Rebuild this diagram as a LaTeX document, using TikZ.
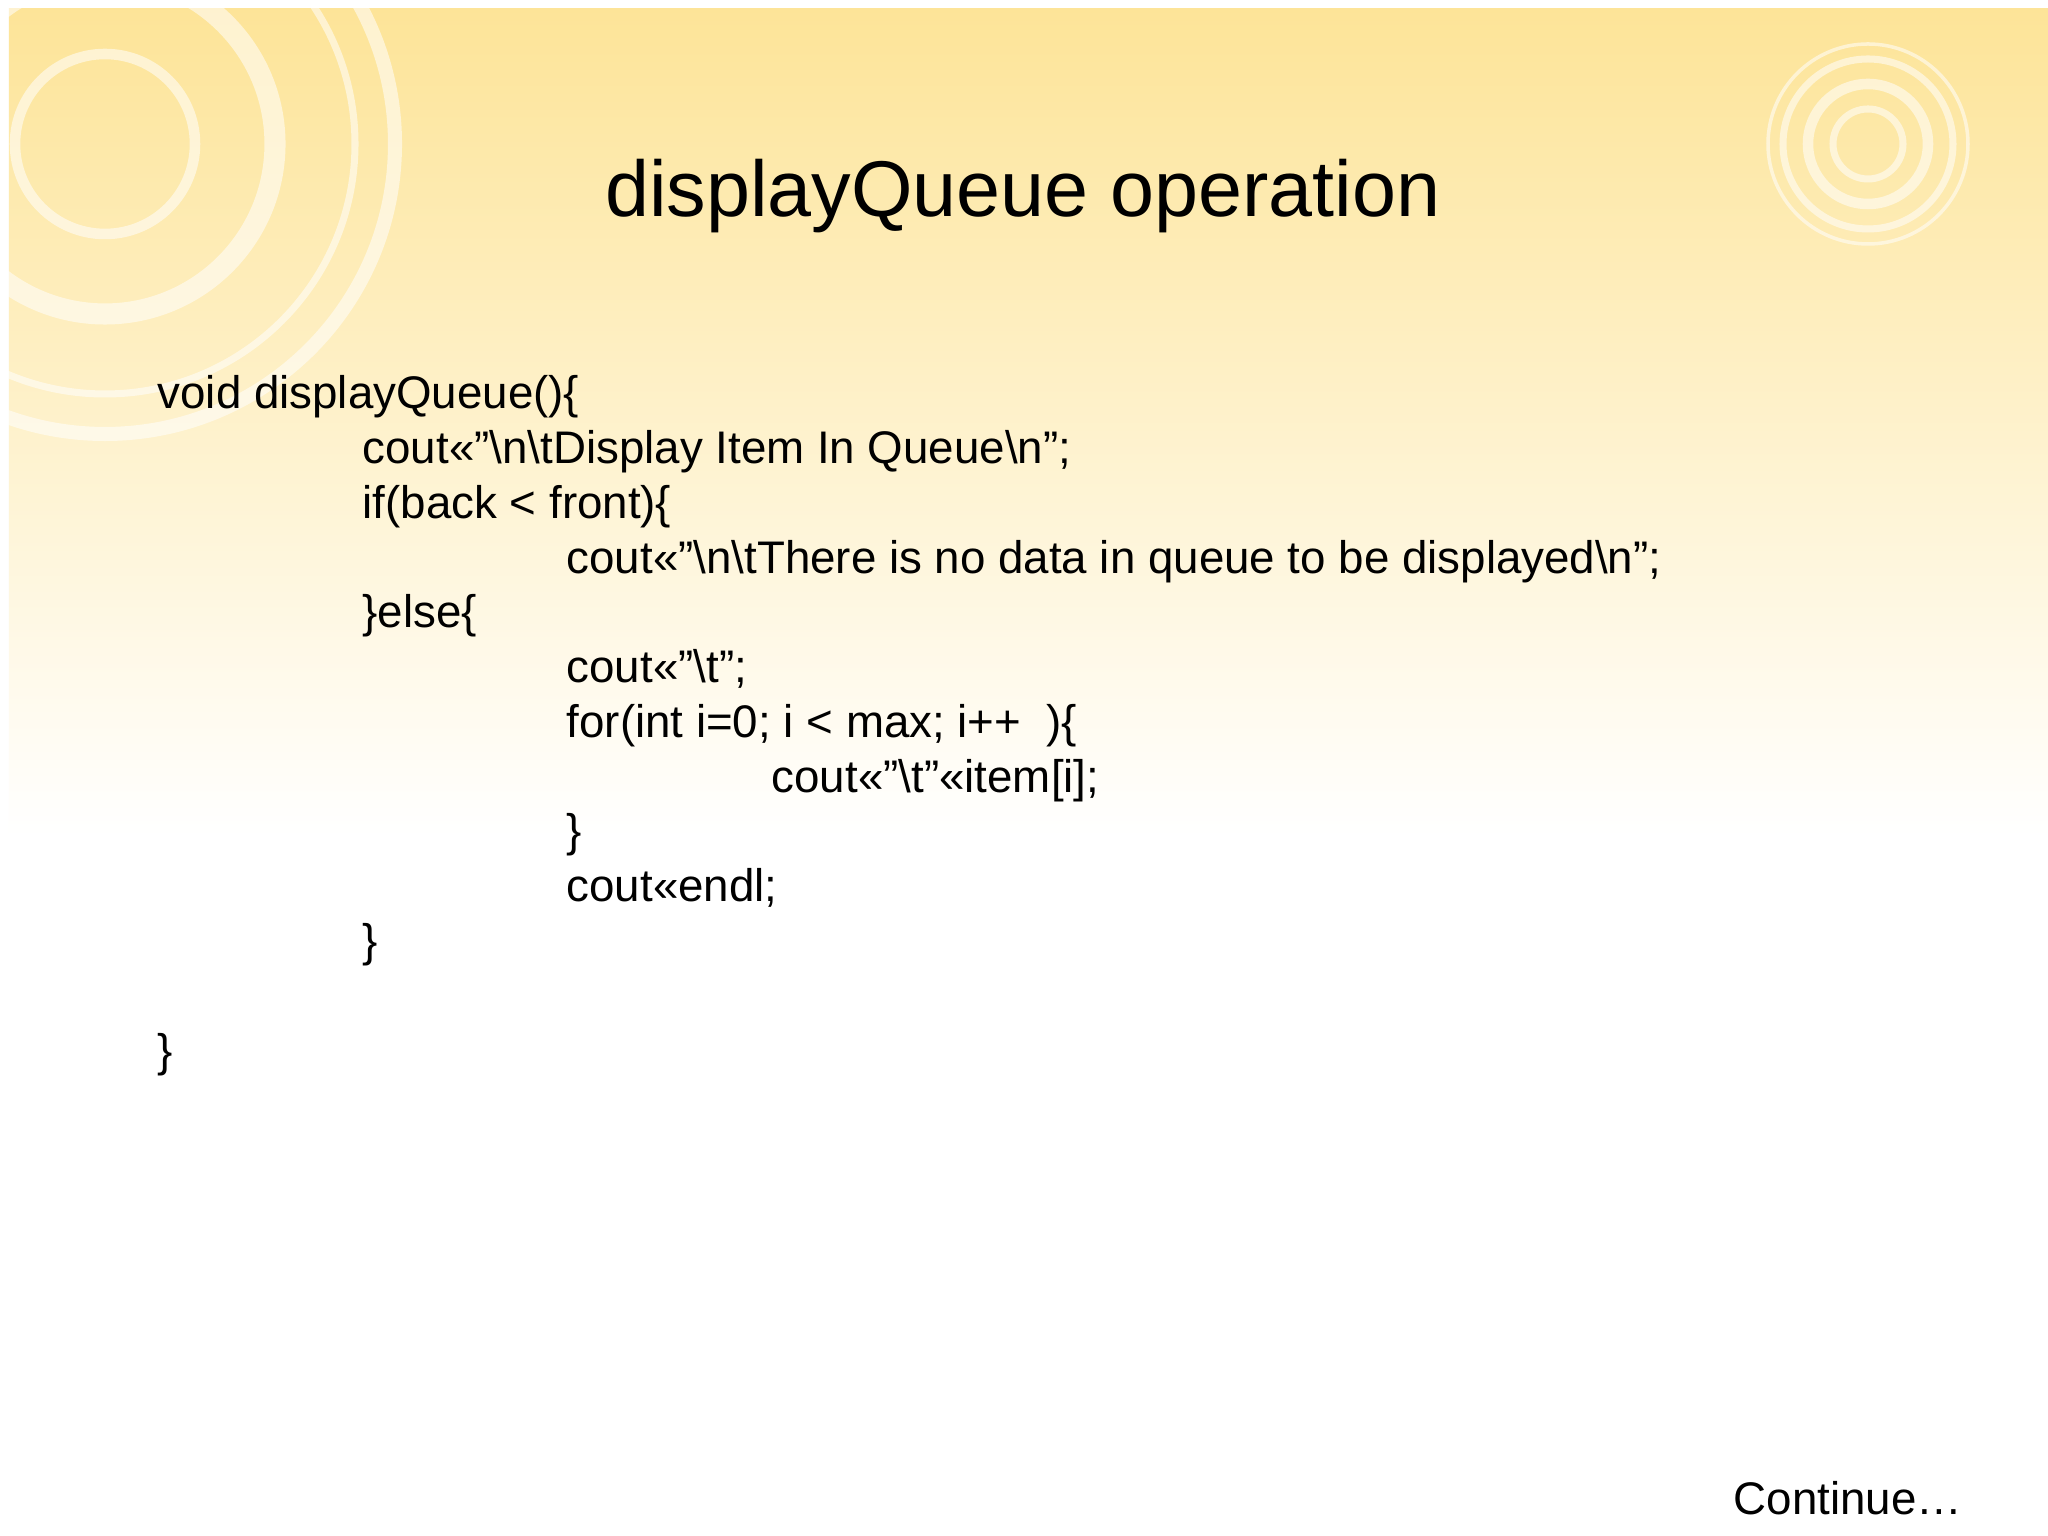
\documentclass[tikz,border=0pt]{standalone}
\usepackage{fontspec}
\setmainfont{Liberation Sans}
\definecolor{slidetop}{HTML}{FDE498}
\newcommand{\bs}{\textbackslash}
\tikzset{codeline/.style={anchor=base west, inner sep=0pt, font=\fontsize{13}{15}\selectfont},
ring/.style={draw=white, opacity=0.55}}
\begin{document}
\begin{tikzpicture}
\useasboundingbox (0,0) rectangle (20.48,15.36);
\fill[white] (0,0) rectangle (20.48,15.36);
\shade[top color=slidetop, bottom color=white] (0.09,7.0) rectangle (20.48,15.27);
% decorative rings
\draw[ring, line width=3pt] (1.05,13.92) circle[radius=0.9];
\draw[ring, line width=6pt] (1.05,13.92) circle[radius=1.7];
\draw[ring, line width=2pt] (1.05,13.92) circle[radius=2.5];
\draw[ring, line width=4pt] (1.05,13.92) circle[radius=2.9];
\draw[ring, line width=2pt] (18.68,13.92) circle[radius=0.35];
\draw[ring, line width=3pt] (18.68,13.92) circle[radius=0.6];
\draw[ring, line width=2pt] (18.68,13.92) circle[radius=0.85];
\draw[ring, line width=1pt] (18.68,13.92) circle[radius=1.0];
% title
\node[font=\fontsize{22.5}{26}\selectfont] (title) at (10.23,13.40) {displayQueue operation};
% code
\node[codeline] (l1) at (1.57,11.27) {void displayQueue()\{};
\node[codeline] (l2) at (3.62,10.72) {cout<<"\bs n\bs tDisplay Item In Queue\bs n";};
\node[codeline] (l3) at (3.62,10.17) {if(back < front)\{};
\node[codeline] (l4) at (5.66,9.62) {cout<<"\bs n\bs tThere is no data in queue to be displayed\bs n";};
\node[codeline] (l5) at (3.62,9.08) {\}else\{};
\node[codeline] (l6) at (5.66,8.53) {cout<<"\bs t";};
\node[codeline] (l7) at (5.66,7.98) {for(int i=0; i < max; i++ \ )\{};
\node[codeline] (l8) at (7.71,7.43) {cout<<"\bs t"<<item[i];};
\node[codeline] (l9) at (5.66,6.89) {\}};
\node[codeline] (l10) at (5.66,6.34) {cout<<endl;};
\node[codeline] (l11) at (3.62,5.79) {\}};
\node[codeline] (l12) at (1.57,4.69) {\}};
\node[codeline, anchor=base east] (cont) at (19.63,0.21) {Continue…};
\end{tikzpicture}
\end{document}
